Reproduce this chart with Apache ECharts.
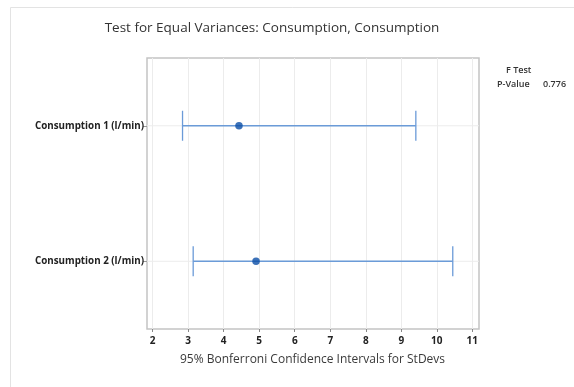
<!DOCTYPE html>
<html>
<head>
<meta charset="utf-8">
<script src="https://cdn.jsdelivr.net/npm/echarts@6/dist/echarts.min.js"></script>
<style>
  html, body { margin: 0; padding: 0; background: #fff; }
  #chart { width: 574px; height: 387px; }
</style>
</head>
<body>
<div id="chart"></div>
<script>
// Bonferroni confidence intervals for the standard deviation of each sample
const categories = ['Consumption 1 (l/min)', 'Consumption 2 (l/min)'];
const lowerBound = [2.84, 3.14];
const stdevEstimate = [4.43, 4.91];
const upperBound = [9.41, 10.45];
const xTicks = [2, 3, 4, 5, 6, 7, 8, 9, 10, 11];
const pValue = '0.776';

const FONT = '"Open Sans", "Noto Sans", sans-serif';
const BAR_COLOR = '#6b9bd8';
const DOT_COLOR = '#0a4ea6';

const chart = echarts.init(document.getElementById('chart'), null, { renderer: 'canvas' });

const intervalData = categories.map((c, i) => [i, lowerBound[i], upperBound[i]]);
const pointData = categories.map((c, i) => [stdevEstimate[i], i]);

const option = {
  backgroundColor: '#fff',
  animation: false,
  title: {
    text: 'Test for Equal Variances: Consumption, Consumption',
    left: 267,
    top: 16,
    textAlign: 'center',
    textStyle: { fontFamily: FONT, fontSize: 13.5, fontWeight: 500, color: '#333' }
  },
  graphic: [
    { type: 'line', shape: { x1: 10.5, y1: 7.5, x2: 574, y2: 7.5 }, style: { stroke: '#e3e3e3', lineWidth: 1 } },
    { type: 'line', shape: { x1: 10.5, y1: 7.5, x2: 10.5, y2: 387 }, style: { stroke: '#e3e3e3', lineWidth: 1 } },
    { type: 'text', left: 506, top: 66, style: { text: 'F Test', font: '600 9px ' + FONT, fill: '#333' } },
    { type: 'text', left: 497, top: 80, style: { text: 'P-Value', font: '600 9px ' + FONT, fill: '#333' } },
    { type: 'text', left: 543, top: 80, style: { text: pValue, font: '600 9px ' + FONT, fill: '#333' } }
  ],
  grid: [
    // outer frame of the plot
    { left: 147, top: 58, width: 332, height: 271, show: true, borderColor: '#c4c4c4', borderWidth: 1.5, backgroundColor: 'transparent' },
    // data region spanning the tick range
    { left: 152.7, top: 58, width: 319.6, height: 271 }
  ],
  xAxis: [
    { gridIndex: 0, type: 'value', min: 0, max: 1, show: false },
    {
      gridIndex: 1, type: 'value', min: 2, max: 11, interval: 1,
      name: '95% Bonferroni Confidence Intervals for StDevs',
      nameLocation: 'middle', nameGap: 25,
      nameTextStyle: { fontFamily: FONT, fontSize: 12, color: '#3a3a3a' },
      axisLine: { show: false },
      axisTick: { show: true, length: 3, lineStyle: { color: '#888' } },
      axisLabel: { margin: 7, fontFamily: FONT, fontSize: 10, fontWeight: 'bold', color: '#222',
        customValues: xTicks },
      splitLine: { show: true, lineStyle: { color: '#ececec', width: 1 } }
    }
  ],
  yAxis: [
    { gridIndex: 0, type: 'value', min: 0, max: 1, show: false },
    {
      gridIndex: 1, type: 'category', data: categories, inverse: true,
      offset: 5.7,
      axisLine: { show: false },
      axisTick: { show: true, alignWithLabel: true, length: 4, lineStyle: { color: '#999' } },
      axisLabel: { margin: 3, fontFamily: FONT, fontSize: 9.8, fontWeight: 'bold', color: '#222' },
      splitLine: { show: false }
    }
  ],
  series: [
    {
      type: 'custom',
      xAxisIndex: 1, yAxisIndex: 1,
      data: intervalData,
      encode: { x: [1, 2], y: 0 },
      silent: true,
      z: 3,
      renderItem: function (params, api) {
        const yi = api.value(0);
        const p0 = api.coord([api.value(1), yi]);
        const p1 = api.coord([api.value(2), yi]);
        const cap = 15;
        const cs = params.coordSys;
        const st = { stroke: BAR_COLOR, lineWidth: 1.3 };
        return {
          type: 'group',
          children: [
            { type: 'line', shape: { x1: cs.x - 5.7, y1: p0[1], x2: cs.x + cs.width + 6.7, y2: p0[1] }, style: { stroke: '#ececec', lineWidth: 1 }, z2: 0 },
            { type: 'line', shape: { x1: p0[0], y1: p0[1], x2: p1[0], y2: p1[1] }, style: st, z2: 1 },
            { type: 'line', shape: { x1: p0[0], y1: p0[1] - cap, x2: p0[0], y2: p0[1] + cap }, style: st, z2: 1 },
            { type: 'line', shape: { x1: p1[0], y1: p1[1] - cap, x2: p1[0], y2: p1[1] + cap }, style: st, z2: 1 }
          ]
        };
      }
    },
    {
      type: 'scatter',
      xAxisIndex: 1, yAxisIndex: 1,
      data: pointData,
      symbol: 'circle',
      symbolSize: 7.5,
      itemStyle: { color: DOT_COLOR },
      silent: true,
      z: 4
    }
  ]
};

chart.setOption(option);
</script>
</body>
</html>
